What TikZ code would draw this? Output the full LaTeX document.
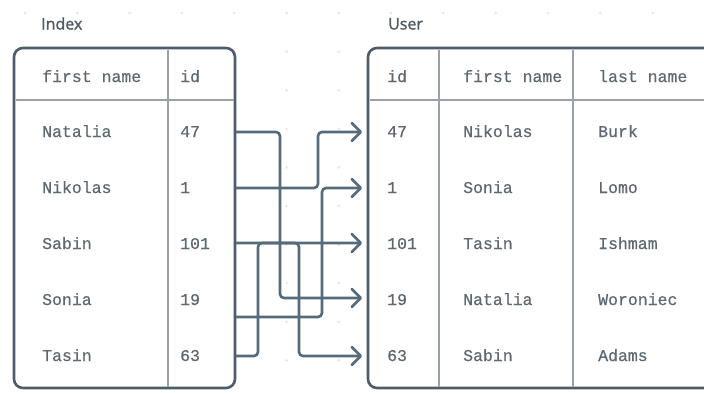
\documentclass[tikz,border=0pt]{standalone}
\usepackage{fontspec}
\setmainfont{Open Sans}
\setmonofont[FakeBold=0.5]{Liberation Mono}
\newfontfamily\headfont[FakeBold=1.4]{Open Sans}
\usetikzlibrary{arrows.meta}
\definecolor{frame}{HTML}{4E5D69}
\definecolor{linkc}{HTML}{566B7A}
\definecolor{txt}{HTML}{5E6870}
\definecolor{rulec}{HTML}{9AA2A8}
\definecolor{dotc}{HTML}{E6E6EC}
\definecolor{titlec}{HTML}{505A63}

\begin{document}
\begin{tikzpicture}[x=1pt,y=-1pt,
  box/.style={draw=frame, line width=2.6pt, fill=white, rounded corners=9pt, inner sep=0pt},
  cell/.style={anchor=base west, inner sep=0pt, font=\ttfamily\fontsize{16.5}{18}\selectfont, text=txt},
  ttl/.style={anchor=base west, inner sep=0pt, font=\headfont\fontsize{16}{18}\selectfont, text=titlec},
  link/.style={draw=linkc, line width=2.6pt, rounded corners=4pt,
    -{Straight Barb[length=9pt,width=18pt,round]}},
  sepline/.style={draw=rulec, line width=1.2pt}]

\useasboundingbox (0,0) rectangle (704,394);
\clip (0,0) rectangle (704,394);
\fill[white] (0,0) rectangle (704,394);

% faint dot grid in the background
\foreach \i in {0,...,13}
  \foreach \j in {0,...,10}
    \fill[dotc] (25+52.3*\i, 13+38.6*\j) circle (1.5pt);

% titles
\node[ttl] (tIndex) at (41,29.5) {Index};
\node[ttl] (tUser) at (388,29.5) {User};

% table frames
\node[box, minimum width=221pt, minimum height=340pt] (idx) at (124.5,218) {};
\node[box, minimum width=377pt, minimum height=340pt] (usr) at (556.5,218) {};

% inner rules of the index table
\draw[sepline] (168,49.5) -- (168,386.5);
\draw[sepline] (15.5,100) -- (233.5,100);

% inner rules of the user table
\draw[sepline] (439,49.5) -- (439,386.5);
\draw[sepline] (573,49.5) -- (573,386.5);
\draw[sepline] (369.5,100) -- (704,100);

% index table cells
\node[cell] (ih1) at (42,82) {first name};
\node[cell] (ih2) at (180,82) {id};
\node[cell] (ia1) at (42,137) {Natalia};
\node[cell] (ib1) at (180,137) {47};
\node[cell] (ia2) at (42,193) {Nikolas};
\node[cell] (ib2) at (180,193) {1};
\node[cell] (ia3) at (42,249) {Sabin};
\node[cell] (ib3) at (180,249) {101};
\node[cell] (ia4) at (42,305) {Sonia};
\node[cell] (ib4) at (180,305) {19};
\node[cell] (ia5) at (42,361) {Tasin};
\node[cell] (ib5) at (180,361) {63};

% user table cells
\node[cell] (uh1) at (387,82) {id};
\node[cell] (uh2) at (463,82) {first name};
\node[cell] (uh3) at (598,82) {last name};
\node[cell] (ua1) at (387,137) {47};
\node[cell] (ub1) at (463,137) {Nikolas};
\node[cell] (uc1) at (598,137) {Burk};
\node[cell] (ua2) at (387,193) {1};
\node[cell] (ub2) at (463,193) {Sonia};
\node[cell] (uc2) at (598,193) {Lomo};
\node[cell] (ua3) at (387,249) {101};
\node[cell] (ub3) at (463,249) {Tasin};
\node[cell] (uc3) at (598,249) {Ishmam};
\node[cell] (ua4) at (387,305) {19};
\node[cell] (ub4) at (463,305) {Natalia};
\node[cell] (uc4) at (598,305) {Woroniec};
\node[cell] (ua5) at (387,361) {63};
\node[cell] (ub5) at (463,361) {Sabin};
\node[cell] (uc5) at (598,361) {Adams};

% connector ends: exits on the index frame, tips before the user frame
\coordinate (s1) at (236,132);
\coordinate (s2) at (236,188);
\coordinate (s3) at (236,243);
\coordinate (s4) at (236,317);
\coordinate (s5) at (236,356);
\coordinate (t1) at (362,132);
\coordinate (t2) at (362,188);
\coordinate (t3) at (362,243);
\coordinate (t4) at (362,298);
\coordinate (t5) at (362,356);

% vertical runs of each connector
\coordinate (bNat) at (280,0);
\coordinate (bNik) at (318,0);
\coordinate (bSab) at (299,0);
\coordinate (bSon) at (322,0);
\coordinate (bTas) at (258,0);

% row pointers from the index to the user table
\draw[link] (s1) -- (s1 -| bNat) -- (bNat |- t4) -- (t4);
\draw[link] (s2) -- (s2 -| bNik) -- (bNik |- t1) -- (t1);
\draw[link] (s3) -- (s3 -| bSab) -- (bSab |- t5) -- (t5);
\draw[link] (s4) -- (s4 -| bSon) -- (bSon |- t2) -- (t2);
\draw[link] (s5) -- (s5 -| bTas) -- (bTas |- t3) -- (t3);
\end{tikzpicture}
\end{document}
